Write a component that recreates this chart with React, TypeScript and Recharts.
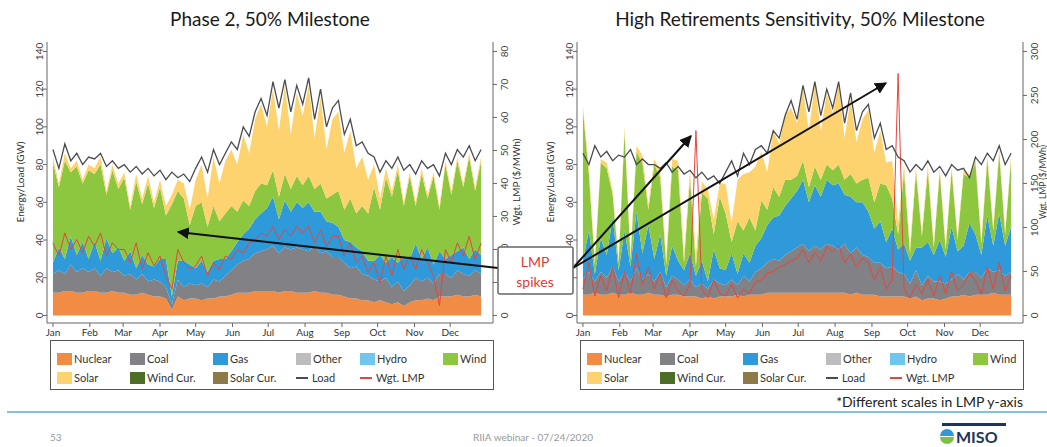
import { ComposedChart, Area, Line, XAxis, YAxis } from 'recharts'

const MONTHS = ['Jan', 'Feb', 'Mar', 'Apr', 'May', 'Jun', 'Jul', 'Aug', 'Sep', 'Oct', 'Nov', 'Dec']
const MONTH_STARTS = [0, 31, 59, 90, 120, 151, 181, 212, 243, 273, 304, 334]

// one sample every 5 days
const DAYS = [
  0, 5, 10, 15, 20, 25, 30, 35, 40, 45, 50, 55, 60, 65, 70, 75, 80, 85, 90, 95, 100, 105, 110, 115, 120,
  125, 130, 135, 140, 145, 150, 155, 160, 165, 170, 175, 180, 185, 190, 195, 200, 205, 210, 215, 220, 225,
  230, 235, 240, 245, 250, 255, 260, 265, 270, 275, 280, 285, 290, 295, 300, 305, 310, 315, 320, 325, 330,
  335, 340, 345, 350, 355, 360,
]

// Phase 2, 50% Milestone (GW, LMP in $/MWh)
const P2_NUCLEAR = [
  12, 12, 13, 13, 12, 12, 13, 13, 12, 12, 13, 12, 12, 11, 11, 12, 11, 10, 10, 9, 3, 10, 8, 9, 9, 8, 9, 9, 10,
  10, 11, 12, 12, 12, 13, 13, 13, 13, 12, 13, 13, 12, 12, 12, 13, 12, 12, 11, 11, 10, 9, 9, 8, 8, 7, 8, 7, 6,
  7, 5, 7, 8, 8, 9, 8, 10, 10, 10, 11, 10, 10, 11, 10,
]
const P2_COAL = [
  10, 12, 9, 14, 11, 13, 10, 12, 9, 13, 10, 12, 9, 11, 8, 10, 7, 9, 8, 6, 3, 9, 7, 8, 7, 9, 6, 10, 8, 11, 13,
  15, 17, 18, 20, 21, 22, 24, 21, 23, 22, 24, 23, 22, 24, 21, 22, 20, 20, 18, 16, 17, 14, 13, 12, 10, 13, 9,
  11, 8, 9, 12, 10, 11, 9, 12, 12, 10, 13, 12, 11, 13, 12,
]
const P2_GAS = [
  6, 12, 8, 15, 9, 14, 7, 14, 8, 16, 10, 12, 8, 12, 6, 10, 9, 7, 12, 15, 4, 10, 14, 10, 9, 12, 8, 10, 12, 9,
  10, 12, 14, 16, 18, 20, 22, 26, 18, 25, 20, 24, 22, 26, 18, 22, 16, 18, 16, 12, 14, 10, 12, 8, 10, 14, 8,
  16, 10, 18, 14, 18, 12, 16, 10, 12, 8, 12, 10, 14, 9, 11, 10,
]
const P2_WIND = [
  53, 32, 52, 34, 47, 31, 47, 36, 51, 23, 44, 31, 44, 22, 46, 27, 43, 31, 38, 23, 49, 37, 33, 21, 33, 31, 24,
  29, 20, 24, 24, 16, 18, 12, 15, 16, 12, 14, 12, 14, 12, 14, 12, 14, 12, 15, 12, 15, 19, 16, 23, 18, 24, 25,
  39, 24, 45, 32, 49, 27, 44, 20, 45, 26, 47, 22, 50, 32, 48, 32, 54, 31, 50,
]
const P2_SOLAR = [
  3, 2, 4, 2, 3, 2, 3, 3, 4, 2, 3, 3, 3, 2, 4, 3, 4, 3, 4, 5, 5, 6, 8, 8, 14, 20, 15, 26, 20, 28, 30, 25, 35,
  28, 38, 42, 31, 43, 35, 47, 29, 44, 37, 48, 27, 46, 26, 40, 42, 30, 36, 24, 26, 18, 12, 6, 5, 3, 3, 2, 2, 2,
  3, 2, 2, 2, 2, 2, 2, 2, 2, 2, 2,
]
const P2_LOAD = [
  88, 78, 91, 82, 86, 80, 84, 83, 86, 79, 82, 78, 80, 76, 79, 75, 78, 74, 77, 72, 76, 73, 75, 71, 78, 84, 76,
  88, 80, 86, 92, 88, 100, 95, 108, 115, 106, 124, 110, 125, 108, 122, 112, 126, 104, 120, 100, 110, 114, 96,
  104, 90, 92, 86, 84, 76, 82, 78, 84, 77, 80, 75, 82, 78, 80, 74, 86, 80, 88, 84, 90, 82, 88,
]
const P2_LMP = [
  22, 18, 25, 20, 23, 19, 24, 21, 25, 18, 22, 20, 20, 16, 22, 14, 19, 15, 18, 12, 8, 20, 16, 14, 15, 18, 12,
  16, 14, 18, 17, 20, 19, 22, 23, 25, 24, 27, 23, 26, 24, 27, 25, 27, 22, 26, 21, 24, 24, 18, 22, 16, 18, 13,
  16, 10, 18, 12, 20, 14, 18, 14, 20, 16, 12, 3, 20, 16, 22, 18, 24, 17, 22,
]

// High Retirements Sensitivity, 50% Milestone
const HR_NUCLEAR = [
  11, 11, 12, 11, 11, 12, 11, 11, 12, 11, 11, 12, 11, 11, 10, 11, 11, 10, 10, 10, 9, 10, 9, 10, 10, 10, 11,
  10, 11, 11, 11, 12, 12, 12, 12, 12, 12, 12, 12, 12, 12, 12, 12, 12, 12, 11, 12, 11, 11, 11, 10, 10, 10, 10,
  10, 9, 10, 8, 9, 9, 8, 9, 10, 10, 11, 10, 11, 11, 11, 12, 11, 11, 11,
]
const HR_COAL = [
  8, 12, 6, 12, 9, 14, 7, 12, 6, 14, 8, 10, 7, 12, 5, 10, 8, 6, 9, 5, 8, 4, 10, 7, 6, 9, 5, 11, 7, 12, 14, 16,
  18, 17, 20, 22, 24, 26, 22, 25, 23, 26, 25, 23, 26, 22, 24, 21, 20, 17, 18, 15, 16, 13, 12, 8, 14, 8, 12, 9,
  10, 8, 9, 12, 8, 13, 12, 9, 14, 11, 13, 10, 12,
]
const HR_GAS = [
  10, 22, 4, 18, 12, 26, 6, 22, 8, 30, 14, 26, 12, 20, 6, 16, 10, 8, 14, 6, 12, 4, 16, 8, 8, 14, 6, 12, 10,
  14, 16, 20, 22, 24, 26, 28, 30, 34, 26, 32, 28, 34, 32, 35, 26, 30, 24, 28, 24, 18, 22, 14, 20, 12, 16, 12,
  12, 20, 18, 14, 22, 14, 28, 12, 18, 26, 20, 12, 28, 14, 30, 16, 24,
]
const HR_WIND = [
  80, 30, 5, 40, 46, 12, 4, 52, 4, 32, 48, 8, 50, 30, 6, 42, 48, 4, 40, 5, 36, 44, 8, 38, 30, 6, 28, 12, 24,
  8, 20, 8, 16, 10, 14, 10, 8, 10, 8, 10, 9, 8, 8, 10, 8, 12, 10, 12, 18, 14, 20, 30, 16, 8, 38, 4, 40, 6, 38,
  4, 36, 4, 30, 6, 38, 24, 38, 6, 30, 8, 32, 6, 36,
]
const HR_SOLAR = [
  2, 3, 2, 2, 3, 2, 2, 3, 2, 3, 4, 3, 3, 4, 3, 4, 5, 4, 4, 6, 6, 5, 8, 7, 16, 10, 22, 30, 24, 34, 26, 20, 30,
  28, 34, 38, 28, 38, 30, 44, 26, 38, 30, 42, 22, 40, 22, 32, 36, 26, 28, 12, 20, 6, 4, 3, 3, 2, 3, 2, 2, 2,
  2, 2, 2, 2, 2, 2, 2, 2, 2, 2, 2,
]
const HR_LOAD = [
  86, 80, 90, 84, 87, 82, 85, 84, 88, 80, 83, 80, 80, 78, 81, 76, 79, 75, 77, 73, 76, 72, 74, 70, 76, 82, 74,
  86, 80, 88, 90, 86, 98, 94, 106, 114, 104, 122, 108, 124, 106, 120, 110, 124, 102, 118, 98, 108, 112, 94,
  102, 88, 90, 84, 82, 76, 80, 77, 82, 76, 79, 74, 80, 77, 78, 73, 84, 80, 86, 82, 90, 80, 86,
]
const HR_LMP = [
  30, 60, 22, 45, 28, 55, 20, 50, 25, 70, 35, 55, 30, 48, 20, 40, 28, 22, 35, 210, 30, 20, 40, 25, 22, 35, 20,
  30, 25, 38, 40, 48, 50, 55, 58, 62, 65, 75, 60, 72, 62, 78, 72, 80, 60, 70, 55, 65, 60, 40, 55, 30, 40, 275,
  30, 20, 35, 25, 40, 22, 45, 25, 50, 28, 35, 48, 40, 24, 55, 30, 60, 28, 45,
]

const GW_TICKS = [0, 20, 40, 60, 80, 100, 120, 140]
const P2_LMP_TICKS = [0, 10, 20, 30, 40, 50, 60, 70, 80]
const HR_LMP_TICKS = [0, 50, 100, 150, 200, 250, 300]

const COLORS = {
  nuclear: '#f28c45',
  coal: '#818186',
  gas: '#2f9ad9',
  other: '#bdbdbd',
  hydro: '#70c7ee',
  wind: '#8dc63f',
  solar: '#fdd36f',
  windCur: '#4e6e27',
  solarCur: '#8e7a47',
  load: '#4a4c50',
  lmp: '#e5463b',
}

const FONT = 'Lato, "Open Sans", Arial, sans-serif'

function buildRows(nuclear: number[], coal: number[], gas: number[], wind: number[], solar: number[], load: number[], lmp: number[]) {
  return DAYS.map((day, i) => ({
    day,
    nuclear: nuclear[i],
    coal: coal[i],
    gas: gas[i],
    wind: wind[i],
    solar: solar[i],
    load: load[i],
    lmp: lmp[i],
  }))
}

const p2Rows = buildRows(P2_NUCLEAR, P2_COAL, P2_GAS, P2_WIND, P2_SOLAR, P2_LOAD, P2_LMP)
const hrRows = buildRows(HR_NUCLEAR, HR_COAL, HR_GAS, HR_WIND, HR_SOLAR, HR_LOAD, HR_LMP)

function LeftTick({ x, y, payload }: any) {
  const x0 = x + 2
  return (
    <text x={x0} y={y} transform={`rotate(-90 ${x0} ${y})`} textAnchor="middle" fontSize={10} fill="#444" fontFamily={FONT}>
      {payload.value}
    </text>
  )
}

function RightTick({ x, y, payload }: any) {
  const x0 = x + 9
  return (
    <text x={x0} y={y} transform={`rotate(-90 ${x0} ${y})`} textAnchor="middle" fontSize={10} fill="#444" fontFamily={FONT}>
      {payload.value}
    </text>
  )
}

function GenChart({ rows, lmpMax, lmpTicks }: { rows: any[]; lmpMax: number; lmpTicks: number[] }) {
  const k = lmpMax / 140
  return (
    <ComposedChart width={530} height={345} data={rows} margin={{ top: 42, right: 0, bottom: 0, left: 0 }}>
      <XAxis
        dataKey="day"
        type="number"
        domain={[-5, 370]}
        ticks={MONTH_STARTS}
        tickFormatter={(v: number) => MONTHS[MONTH_STARTS.indexOf(v)]}
        allowDataOverflow
        height={22}
        tickSize={4}
        stroke="#666"
        tick={{ fontSize: 10, fill: '#333', fontFamily: FONT }}
      />
      <YAxis
        yAxisId="gw"
        domain={[-4, 145]}
        ticks={GW_TICKS}
        allowDataOverflow
        width={47}
        tickSize={4}
        stroke="#666"
        tick={<LeftTick />}
      />
      <YAxis
        yAxisId="lmp"
        orientation="right"
        domain={[-4 * k, 145 * k]}
        ticks={lmpTicks}
        allowDataOverflow
        width={37}
        tickSize={4}
        stroke="#666"
        tick={<RightTick />}
      />
      {(['nuclear', 'coal', 'gas', 'wind', 'solar'] as const).map((key) => (
        <Area
          key={key}
          yAxisId="gw"
          dataKey={key}
          stackId="gen"
          type="linear"
          stroke="none"
          fill={COLORS[key]}
          fillOpacity={1}
          dot={false}
          activeDot={false}
          isAnimationActive={false}
        />
      ))}
      <Line yAxisId="lmp" dataKey="lmp" type="linear" stroke={COLORS.lmp} strokeWidth={1} dot={false} activeDot={false} isAnimationActive={false} />
      <Line yAxisId="gw" dataKey="load" type="linear" stroke={COLORS.load} strokeWidth={1.3} dot={false} activeDot={false} isAnimationActive={false} />
    </ComposedChart>
  )
}

const LEGEND_ITEMS = [
  { name: 'Nuclear', color: COLORS.nuclear, kind: 'box', col: 0, row: 0 },
  { name: 'Coal', color: COLORS.coal, kind: 'box', col: 1, row: 0 },
  { name: 'Gas', color: COLORS.gas, kind: 'box', col: 2, row: 0 },
  { name: 'Other', color: COLORS.other, kind: 'box', col: 3, row: 0 },
  { name: 'Hydro', color: COLORS.hydro, kind: 'box', col: 4, row: 0 },
  { name: 'Wind', color: COLORS.wind, kind: 'box', col: 5, row: 0 },
  { name: 'Solar', color: COLORS.solar, kind: 'box', col: 0, row: 1 },
  { name: 'Wind Cur.', color: COLORS.windCur, kind: 'box', col: 1, row: 1 },
  { name: 'Solar Cur.', color: COLORS.solarCur, kind: 'box', col: 2, row: 1 },
  { name: 'Load', color: COLORS.load, kind: 'line', col: 3, row: 1 },
  { name: 'Wgt. LMP', color: COLORS.lmp, kind: 'line', col: 4, row: 1 },
]
const LEGEND_COLS = [6, 79, 162, 245, 309, 392]

function GenLegend({ left }: { left: number }) {
  return (
    <div
      style={{
        position: 'absolute',
        left,
        top: 340,
        width: 444,
        height: 50,
        border: '1.5px solid #555',
        boxSizing: 'border-box',
        background: '#fff',
      }}
    >
      {LEGEND_ITEMS.map((it) => (
        <div
          key={it.name}
          style={{
            position: 'absolute',
            left: LEGEND_COLS[it.col],
            top: 12 + it.row * 19,
            display: 'flex',
            alignItems: 'center',
            fontFamily: FONT,
            fontSize: 11,
            color: '#333',
            lineHeight: '12px',
            whiteSpace: 'nowrap',
          }}
        >
          {it.kind === 'box' ? (
            <span style={{ display: 'inline-block', width: 15, height: 12, background: it.color, marginRight: 2 }} />
          ) : (
            <span style={{ display: 'inline-block', width: 12, height: 1.5, background: it.color, marginRight: 4 }} />
          )}
          {it.name}
        </div>
      ))}
    </div>
  )
}

export default function App() {
  return (
    <div style={{ position: 'absolute', left: 0, top: 0, width: 1047, height: 447, background: '#fff', overflow: 'hidden', fontFamily: FONT }}>
      <div style={{ position: 'absolute', left: 0, top: 0 }}>
        <GenChart rows={p2Rows} lmpMax={80} lmpTicks={P2_LMP_TICKS} />
      </div>
      <div style={{ position: 'absolute', left: 530, top: 0 }}>
        <GenChart rows={hrRows} lmpMax={300} lmpTicks={HR_LMP_TICKS} />
      </div>
      <GenLegend left={50} />
      <GenLegend left={580} />
      <svg width={1047} height={447} style={{ position: 'absolute', left: 0, top: 0, pointerEvents: 'none' }}>
        <defs>
          <marker id="arrow" viewBox="0 0 10 10" refX="9" refY="5" markerWidth="6" markerHeight="6" orient="auto-start-reverse">
            <path d="M0,0 L10,5 L0,10 z" fill="#111" />
          </marker>
        </defs>
        <text x={270} y={26} textAnchor="middle" fontSize={19} fill="#1a1a1a" fontFamily={FONT}>
          Phase 2, 50% Milestone
        </text>
        <text x={800} y={26} textAnchor="middle" fontSize={19} fill="#1a1a1a" fontFamily={FONT}>
          High Retirements Sensitivity, 50% Milestone
        </text>
        <text x={24} y={182} transform="rotate(-90 24 182)" textAnchor="middle" fontSize={10} fill="#333" fontFamily={FONT}>
          Energy/Load (GW)
        </text>
        <text x={554} y={182} transform="rotate(-90 554 182)" textAnchor="middle" fontSize={10} fill="#333" fontFamily={FONT}>
          Energy/Load (GW)
        </text>
        <text x={520} y={182} transform="rotate(-90 520 182)" textAnchor="middle" fontSize={10} fill="#333" fontFamily={FONT}>
          Wgt. LMP ($/MWh)
        </text>
        <text x={1045.5} y={182} transform="rotate(-90 1045.5 182)" textAnchor="middle" fontSize={8.5} fill="#333" fontFamily={FONT}>
          Wgt. LMP ($/MWh)
        </text>
        <line x1={498} y1={268} x2={178} y2={232} stroke="#111" strokeWidth={2} markerEnd="url(#arrow)" />
        <line x1={573} y1={268} x2={691} y2={136} stroke="#111" strokeWidth={2} markerEnd="url(#arrow)" />
        <line x1={573} y1={268} x2={886} y2={83} stroke="#111" strokeWidth={2} markerEnd="url(#arrow)" />
        <rect x={498} y={247} width={75} height={47} fill="#fff" stroke="#666" strokeWidth={1.5} rx={2} />
        <text x={535} y={267} textAnchor="middle" fontSize={14} fill="#e53935" fontFamily={FONT}>
          LMP
        </text>
        <text x={535} y={287} textAnchor="middle" fontSize={14} fill="#e53935" fontFamily={FONT}>
          spikes
        </text>
        <text x={1023} y={407} textAnchor="end" fontSize={14} fill="#222" fontFamily={FONT}>
          *Different scales in LMP y-axis
        </text>
        <line x1={7} y1={412} x2={1047} y2={412} stroke="#86bfe6" strokeWidth={2} />
        <text x={50} y={441} fontSize={10} fill="#999" fontFamily={FONT}>
          53
        </text>
        <text x={533} y={441} textAnchor="middle" fontSize={10} fill="#999" fontFamily={FONT}>
          RIIA webinar - 07/24/2020
        </text>
        <rect x={942} y={423} width={64} height={3} fill="#1d3557" />
        <path d="M940,436 A7,7 0 0 1 954,436 Z" fill="#2f9ad9" />
        <path d="M940,437 A7,7 0 0 0 954,437 Z" fill="#7cc242" />
        <text x={956} y={443} fontSize={16} fontWeight={700} fill="#1d3557" fontFamily={FONT}>
          MISO
        </text>
      </svg>
    </div>
  )
}
